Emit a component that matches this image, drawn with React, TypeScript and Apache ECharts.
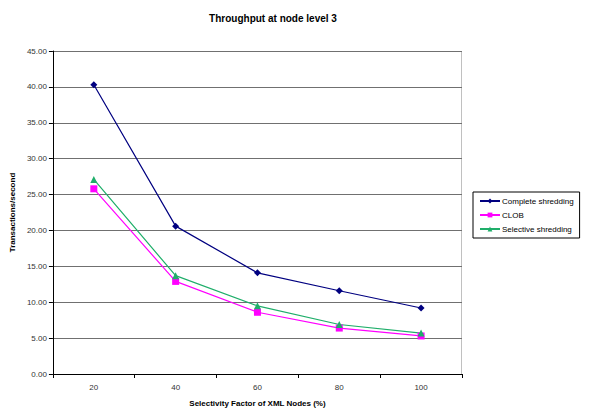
import React, { useEffect, useRef } from "react";
import * as echarts from "echarts";

const categories = ["20", "40", "60", "80", "100"];
const completeShredding = [40.3, 20.6, 14.1, 11.6, 9.2];
const clob = [25.8, 12.9, 8.6, 6.4, 5.3];
const selectiveShredding = [27.1, 13.7, 9.5, 6.9, 5.7];
const seriesNames = ["Complete shredding", "CLOB", "Selective shredding"];

export default function App() {
  const ref = useRef<HTMLDivElement>(null);
  useEffect(() => {
    if (!ref.current) return;
    const chart = echarts.init(ref.current, null, { renderer: "svg" });
    const font = "Liberation Sans, Arial, sans-serif";
    chart.setOption({
      animation: false,
      backgroundColor: "#ffffff",
      textStyle: { fontFamily: font },
      title: {
        text: "Throughput at node level 3",
        left: 268,
        top: 8,
        textAlign: "center",
        textStyle: { fontSize: 10, fontWeight: "bold", color: "#000", fontFamily: font },
      },
      legend: {
        orient: "vertical",
        left: 473,
        top: 192,
        data: seriesNames,
        borderColor: "#000",
        borderWidth: 1,
        padding: [5, 6, 5, 6],
        itemGap: 6,
        itemWidth: 20,
        itemHeight: 6,
        textStyle: { fontSize: 8, color: "#000", fontFamily: font, padding: [0, 0, 0, -3] },
      },
      grid: { left: 52, right: 127, top: 51, bottom: 37, containLabel: false },
      xAxis: {
        type: "category",
        data: categories,
        boundaryGap: true,
        name: "Selectivity Factor of XML Nodes (%)",
        nameLocation: "middle",
        nameGap: 25,
        nameTextStyle: { fontSize: 8, fontWeight: "bold", color: "#000" },
        axisLine: { lineStyle: { color: "#000", width: 1 } },
        axisTick: { show: true, inside: false, length: 4, lineStyle: { color: "#000" } },
        axisLabel: { fontSize: 8, color: "#333", margin: 9 },
        splitLine: { show: false },
      },
      yAxis: {
        type: "value",
        min: 0,
        max: 45,
        interval: 5,
        name: "Transactions/second",
        nameLocation: "middle",
        nameGap: 35,
        nameTextStyle: { fontSize: 8, fontWeight: "bold", color: "#000" },
        axisLine: { show: true, lineStyle: { color: "#000", width: 1 } },
        axisTick: { show: true, length: 4, lineStyle: { color: "#000" } },
        axisLabel: { fontSize: 8, color: "#333", formatter: (v: number) => v.toFixed(2), margin: 6 },
        splitLine: { show: true, lineStyle: { color: "#707070", width: 1.2 } },
      },
      graphic: [
        {
          type: "line",
          shape: { x1: 461.5, y1: 51, x2: 461.5, y2: 375 },
          style: { stroke: "#c0c0c0", lineWidth: 1 },
        },
      ],
      series: [
        {
          name: seriesNames[0],
          type: "line",
          data: completeShredding,
          symbol: "diamond",
          symbolSize: 7,
          lineStyle: { color: "#000080", width: 1.2 },
          itemStyle: { color: "#000080" },
        },
        {
          name: seriesNames[1],
          type: "line",
          data: clob,
          symbol: "rect",
          symbolSize: 7,
          lineStyle: { color: "#ff00ff", width: 1.2 },
          itemStyle: { color: "#ff00ff" },
        },
        {
          name: seriesNames[2],
          type: "line",
          data: selectiveShredding,
          symbol: "triangle",
          symbolSize: 7,
          lineStyle: { color: "#1fae6a", width: 1.2 },
          itemStyle: { color: "#1fae6a" },
        },
      ],
    });
    return () => chart.dispose();
  }, []);
  return (
    <div
      ref={ref}
      style={{ position: "fixed", left: 0, top: 0, width: 589, height: 412 }}
    />
  );
}
